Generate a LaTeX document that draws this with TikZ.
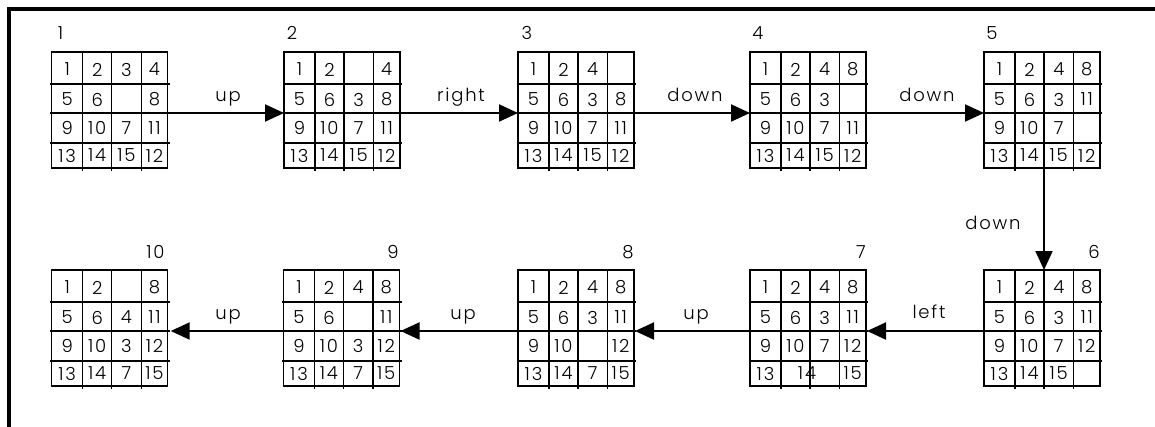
\documentclass[tikz,border=0pt]{standalone}
\usepackage{fontspec}
\setmainfont{Poppins Light}[LetterSpace=10]
\usetikzlibrary{arrows.meta}
\tikzset{
  gridbox/.style={draw, line width=1.3pt, minimum size=116pt, inner sep=0pt, outer sep=0pt},
  hline/.style={line width=2pt},
  vline/.style={line width=1.3pt},
  num/.style={font=\fontsize{18}{20}\selectfont, inner sep=0pt},
  lab/.style={font=\fontsize{18}{20}\selectfont, inner sep=0pt},
  word/.style={font=\fontsize{18}{20}\selectfont, inner sep=0pt, anchor=base},
  move/.style={line width=2pt, -{Triangle[length=19pt,width=17pt]}},
  frame/.style={line width=3.3pt},
}
\newcommand\puzzle[4]{%
  \node[gridbox] (#1) at (#2+58,#3+58) {};
  \foreach \yy in {32,61,90.5} \draw[hline] (#2-1.5,#3+\yy) -- (#2+118,#3+\yy);
  \foreach \xx in {31,60,89.5} \draw[vline] (#2+\xx,#3) -- (#2+\xx,#3+119);
  \foreach \v [count=\k from 0] in {#4} {
    \pgfmathtruncatemacro\cc{mod(\k,4)}
    \pgfmathtruncatemacro\rr{div(\k,4)}
    \pgfmathsetmacro\px{{15.5,45.5,74.75,102.75}[\cc]}
    \pgfmathsetmacro\py{{17.5,47.5,75.75,103.5}[\rr]}
    \node[num] (#1-\k) at (#2+\px,#3+\py) {\v};
  }
}
\begin{document}
\begin{tikzpicture}[x=1pt,y=-1pt]
\useasboundingbox (0,0) rectangle (1155,426);
\begin{scope}
\clip (0,0) rectangle (1155,426);
\draw[frame] (9,9) rectangle (1180,450);
\end{scope}
% top row
\puzzle{g1}{51.7}{52}{1,2,3,4,5,6,{},8,9,10,7,11,13,14,15,12}
\puzzle{g2}{284}{52}{1,2,{},4,5,6,3,8,9,10,7,11,13,14,15,12}
\puzzle{g3}{518}{52}{1,2,4,{},5,6,3,8,9,10,7,11,13,14,15,12}
\puzzle{g4}{750}{52}{1,2,4,8,5,6,3,{},9,10,7,11,13,14,15,12}
\puzzle{g5}{984}{52}{1,2,4,8,5,6,3,11,9,10,7,{},13,14,15,12}
% bottom row
\puzzle{g6}{984}{270}{1,2,4,8,5,6,3,11,9,10,7,12,13,14,15,{}}
\puzzle{g7}{750}{270}{1,2,4,8,5,6,3,11,9,10,7,12,13,{},{},15}
\node[num] (g7-x) at (807,373.5) {14};
\puzzle{g8}{518}{270}{1,2,4,8,5,6,3,11,9,10,{},12,13,14,7,15}
\puzzle{g9}{283.5}{270}{1,2,4,8,5,6,{},11,9,10,3,12,13,14,7,15}
\puzzle{g10}{51.7}{270}{1,2,{},8,5,6,4,11,9,10,3,12,13,14,7,15}
% step labels
\node[lab] (l1) at (60.5,33) {1};
\node[lab] (l2) at (292,33) {2};
\node[lab] (l3) at (527,33) {3};
\node[lab] (l4) at (758,33) {4};
\node[lab] (l5) at (992,33) {5};
\node[lab] (l6) at (1094,252) {6};
\node[lab] (l7) at (861,252) {7};
\node[lab] (l8) at (628,252) {8};
\node[lab] (l9) at (393,252) {9};
\node[lab] (l10) at (155.5,252) {10};
% arrows
\draw[move] ([yshift=-3pt]g1.east) -- ([yshift=-3pt]g2.west);
\draw[move] ([yshift=-3pt]g2.east) -- ([yshift=-3pt]g3.west);
\draw[move] ([yshift=-3pt]g3.east) -- ([yshift=-3pt]g4.west);
\draw[move] ([yshift=-3pt]g4.east) -- ([yshift=-3pt]g5.west);
\draw[move] ([xshift=2pt]g5.south) -- ([xshift=2pt]g6.north);
\draw[move] ([yshift=-3pt]g6.west) -- ([xshift=1pt,yshift=-3pt]g7.east);
\draw[move] ([yshift=-3pt]g7.west) -- ([xshift=1pt,yshift=-3pt]g8.east);
\draw[move] ([yshift=-3pt]g8.west) -- ([xshift=1pt,yshift=-3pt]g9.east);
\draw[move] ([yshift=-3pt]g9.west) -- ([xshift=3pt,yshift=-3pt]g10.east);
% arrow labels
\node[word] (w1) at (228,101) {up};
\node[word] (w2) at (461,101) {right};
\node[word] (w3) at (695,101) {down};
\node[word] (w4) at (927,101) {down};
\node[word] (w5) at (993,229) {down};
\node[word] (w6) at (929,318) {left};
\node[word] (w7) at (696,319) {up};
\node[word] (w8) at (463,319) {up};
\node[word] (w9) at (228,319) {up};
\end{tikzpicture}
\end{document}
